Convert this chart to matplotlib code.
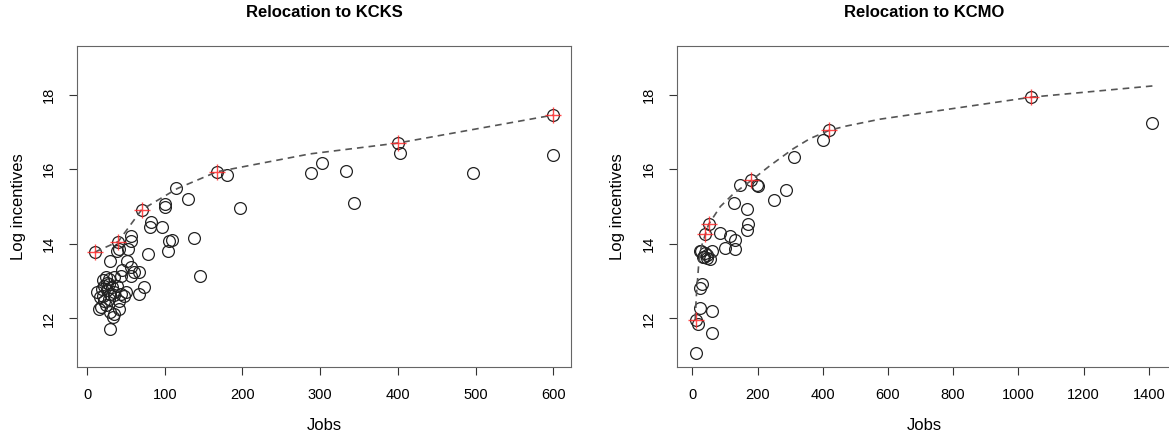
import matplotlib
matplotlib.use("Agg")
import matplotlib.pyplot as plt

plt.rcParams['font.family'] = ['Liberation Sans', 'DejaVu Sans']

# Relocation to KCKS
kcks_jobs = [10, 40, 70, 167, 400, 600,
             180, 115, 130, 100, 100, 197, 82, 81, 96, 57, 56, 52, 41, 38, 78,
             105, 109, 104, 137, 145, 30, 51,
             45, 56, 60, 67, 56, 24, 20, 28, 35, 43, 22, 28, 32, 39, 26, 35, 13,
             17, 22, 28, 35, 41, 50, 43, 15, 24, 30, 35, 41, 30, 67, 73, 48, 18,
             33, 19, 25, 30, 21,
             288, 303, 333, 343, 403, 497, 600]
kcks_inc = [13.78, 14.06, 14.91, 15.93, 16.70, 17.45,
            15.85, 15.49, 15.19, 15.07, 14.98, 14.96, 14.59, 14.44, 14.45, 14.20,
            14.08, 13.87, 13.85, 13.80, 13.74, 14.08, 14.10, 13.80, 14.15, 13.14,
            13.53, 13.55,
            13.29, 13.38, 13.24, 13.24, 13.15, 13.11, 13.02, 13.06, 13.11, 13.15,
            12.88, 12.93, 12.84, 12.88, 12.75, 12.71, 12.71, 12.57, 12.48, 12.53,
            12.62, 12.48, 12.71, 12.66, 12.26, 12.35, 12.17, 12.13, 12.26, 11.72,
            12.66, 12.84, 12.60, 12.30, 12.04, 12.80, 12.95, 12.65, 12.60,
            15.90, 16.16, 15.95, 15.09, 16.44, 15.90, 16.39]
kcks_front_jobs = [10, 40, 70, 167, 400, 600]
kcks_front_inc = [13.78, 14.06, 14.91, 15.93, 16.70, 17.45]
kcks_curve_jobs = [10, 40, 70, 116, 167, 287, 400, 600]
kcks_curve_inc = [13.78, 14.06, 14.91, 15.48, 15.93, 16.41, 16.70, 17.45]

# Relocation to KCMO
kcmo_jobs = [10, 16, 12, 60, 60, 25, 30, 25, 40, 50, 25, 37, 45, 55, 60, 40,
             28, 34, 44,
             86, 101, 116, 132, 132, 129, 145, 181, 198, 200, 167, 172, 169,
             251, 288, 312, 400, 420, 1040, 1411]
kcmo_inc = [11.96, 11.84, 11.08, 11.61, 12.20, 12.29, 12.93, 12.82, 14.25,
            14.52, 13.80, 13.66, 13.63, 13.60, 13.82, 13.75, 13.82, 13.64, 13.69,
            14.29, 13.90, 14.22, 14.11, 13.87, 15.09, 15.57, 15.70, 15.57, 15.55,
            14.94, 14.52, 14.38, 15.18, 15.43, 16.32, 16.79, 17.04, 17.93, 17.25]
kcmo_front_jobs = [10, 40, 50, 181, 420, 1040]
kcmo_front_inc = [11.96, 14.25, 14.52, 15.70, 17.04, 17.93]
kcmo_curve_jobs = [9, 12, 19, 27, 40, 50, 86, 126, 181, 239, 310, 361, 420,
                   469, 576, 1040, 1411]
kcmo_curve_inc = [11.97, 12.55, 13.38, 13.90, 14.25, 14.52, 15.00, 15.34,
                  15.70, 16.10, 16.55, 16.82, 17.04, 17.15, 17.34, 17.93, 18.23]

fig = plt.figure(figsize=(11.69, 4.42), dpi=100)
ax1 = fig.add_axes([0.0659, 0.1697, 0.4226, 0.7262])
ax2 = fig.add_axes([0.5791, 0.1697, 0.4226, 0.7262])


def panel(ax, jobs, inc, fj, fi, cj, ci, title, xlim, xticks):
    ax.plot(jobs, inc, 'o', mfc='none', mec='#222222', ms=8.5, mew=0.9)
    ax.plot(cj, ci, ls=(0, (4, 3)), color='#555555', lw=1.2)
    ax.plot(fj, fi, '+', color='#ff2a2a', ms=12, mew=1.0, alpha=0.85)
    ax.set_xlim(*xlim)
    ax.set_ylim(10.7, 19.3)
    ax.set_xticks(xticks)
    ax.set_yticks([12, 14, 16, 18])
    for lbl in ax.get_yticklabels():
        lbl.set_rotation(90)
        lbl.set_va('center')
    ax.tick_params(direction='out', length=6, width=0.8, color='#333333',
                   labelsize=10.5, pad=9)
    for s in ax.spines.values():
        s.set_color('#666666')
        s.set_linewidth(0.8)
    ax.set_title(title, fontsize=12, fontweight='bold', pad=21)
    ax.set_xlabel('Jobs', fontsize=12, labelpad=12)
    ax.set_ylabel('Log incentives', fontsize=12, labelpad=12)


panel(ax1, kcks_jobs, kcks_inc, kcks_front_jobs, kcks_front_inc,
      kcks_curve_jobs, kcks_curve_inc, 'Relocation to KCKS', (-13, 623),
      range(0, 601, 100))
panel(ax2, kcmo_jobs, kcmo_inc, kcmo_front_jobs, kcmo_front_inc,
      kcmo_curve_jobs, kcmo_curve_inc, 'Relocation to KCMO', (-47, 1468),
      range(0, 1401, 200))

fig.savefig('out.png', dpi=100)
